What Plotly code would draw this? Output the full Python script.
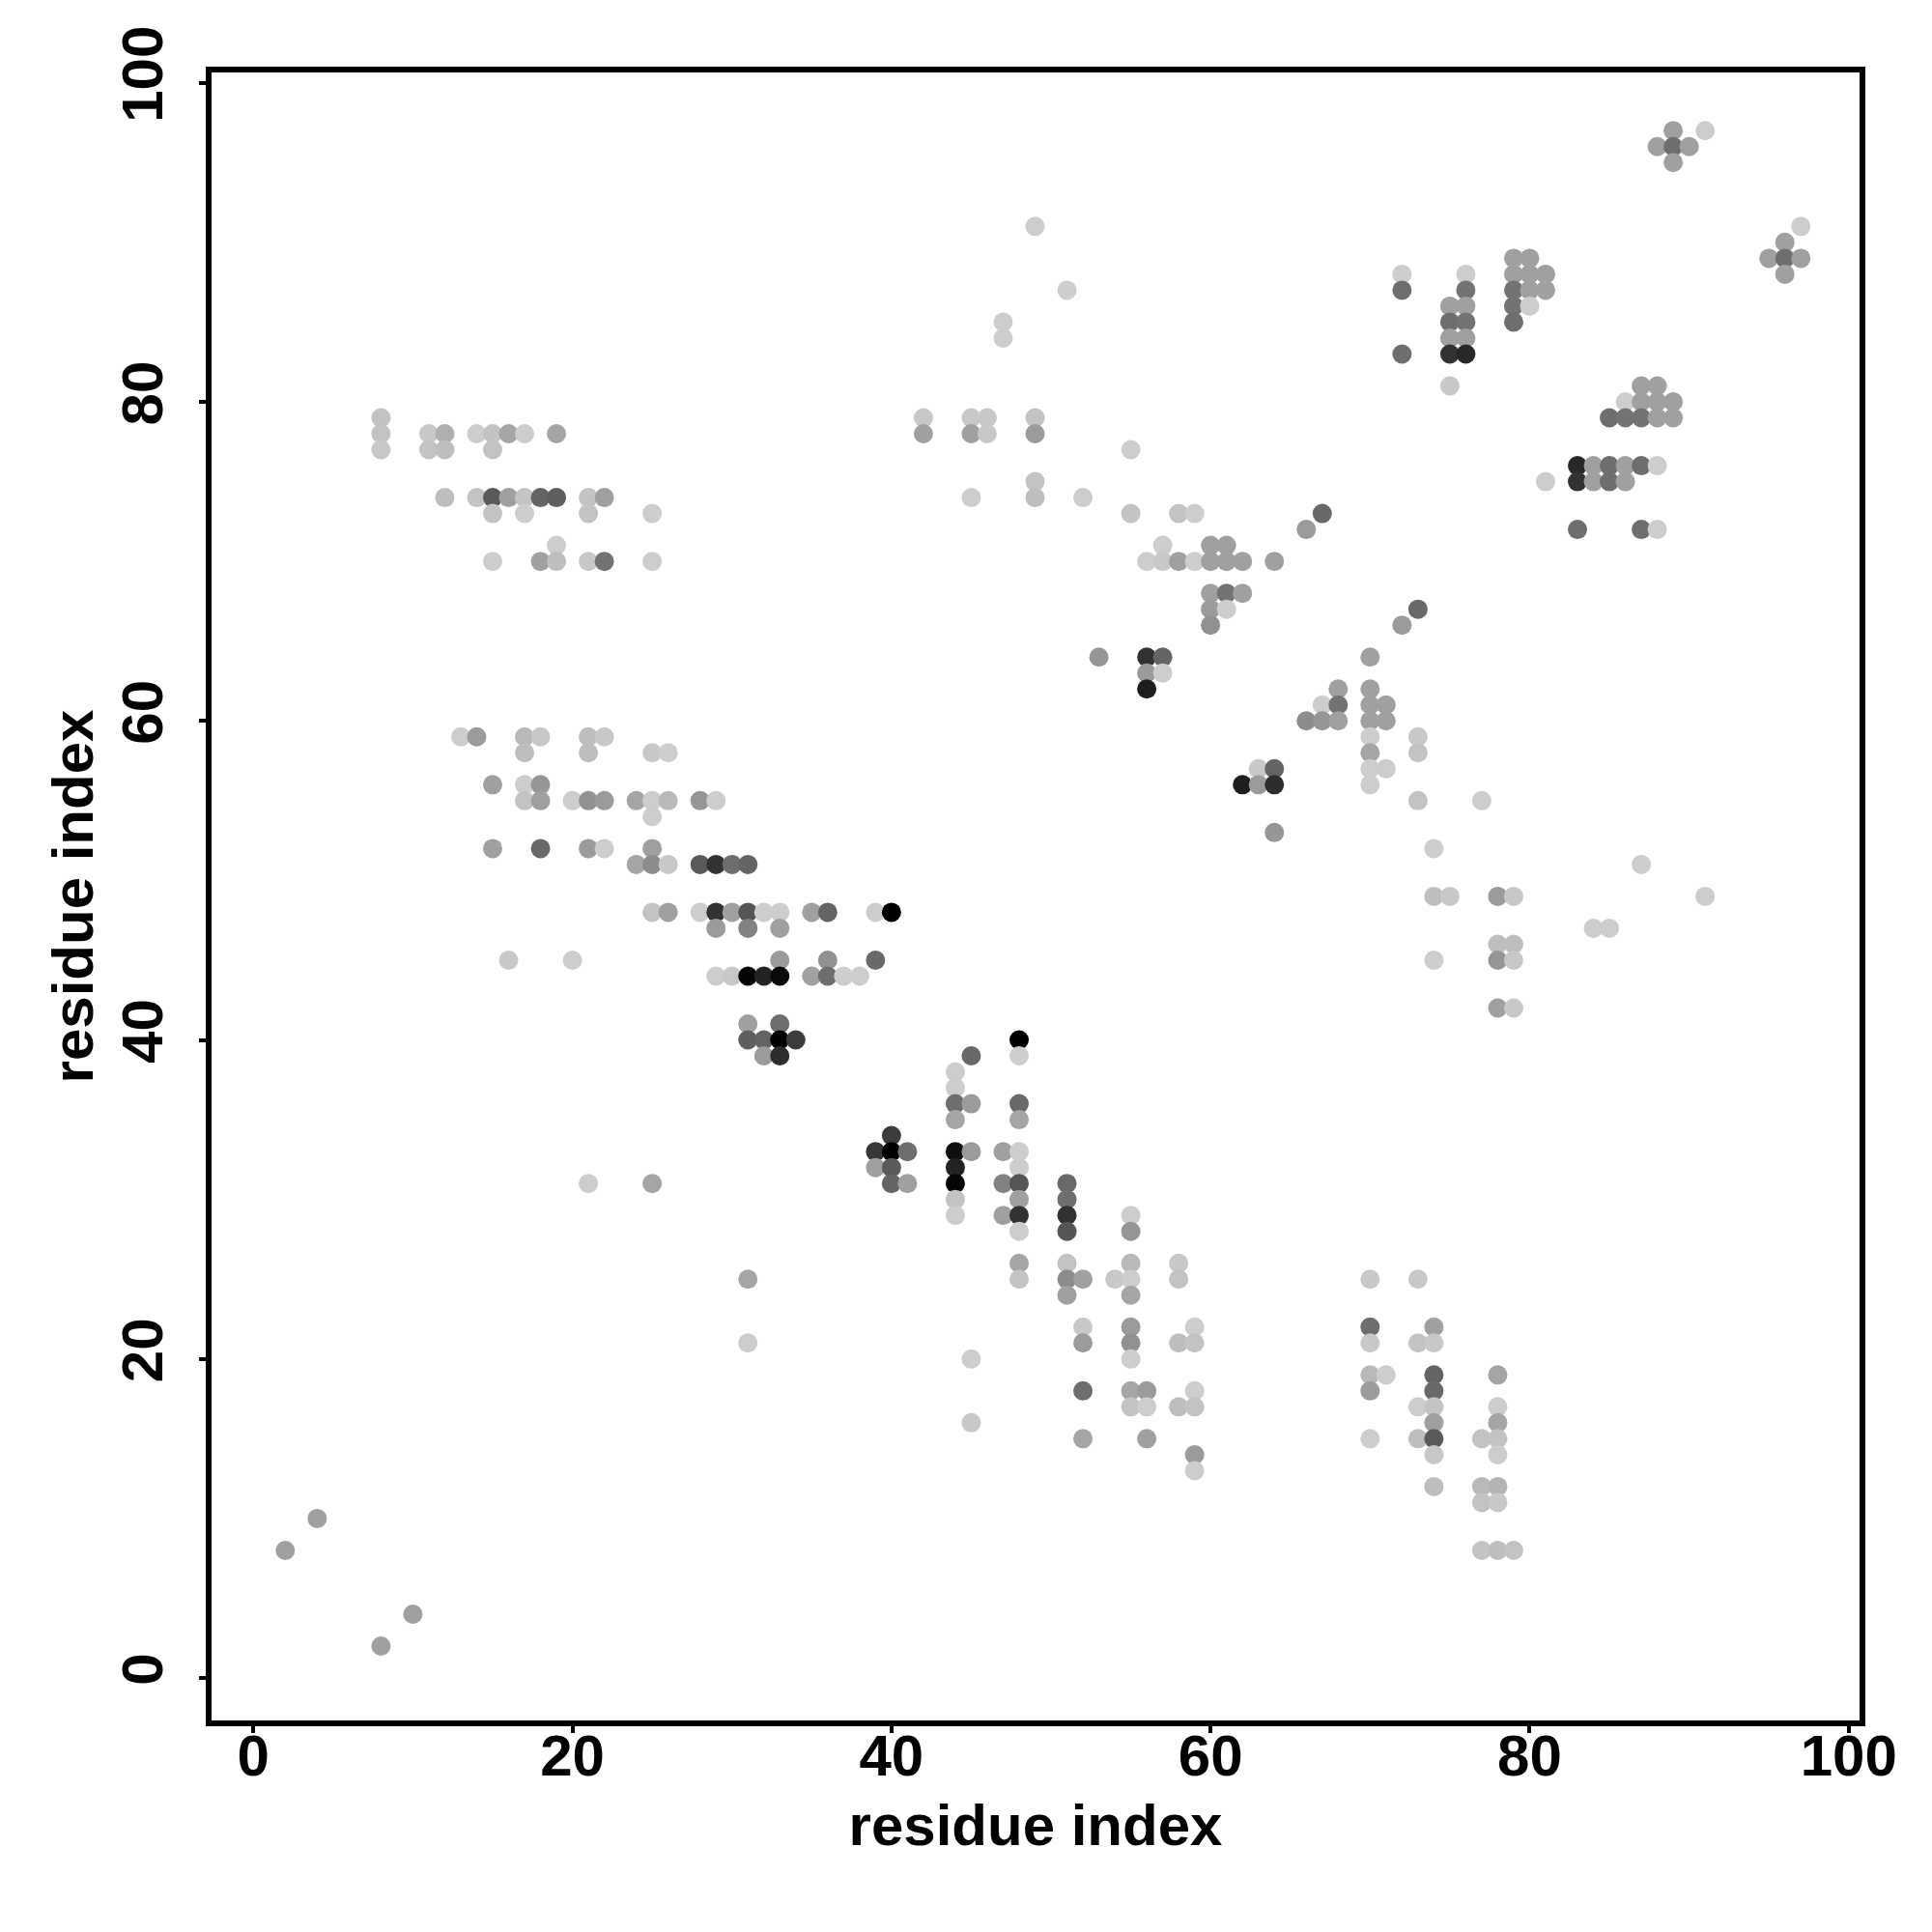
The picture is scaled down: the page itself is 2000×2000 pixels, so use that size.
import plotly.graph_objects as go

# contact map read row by row: y index, x indices, grey levels (0 black .. 255 white)
y_rows = [97, 96, 95, 91, 90, 89, 88, 87, 86, 85, 84, 83, 81, 80, 79, 78, 77, 76, 75, 74, 73, 72, 71, 70,
          68, 67, 66, 64, 63, 62, 61, 60, 59, 58, 57, 56, 55, 54, 53, 52, 51, 49, 48, 47, 46, 45, 44, 42,
          41, 40, 39, 38, 37, 36, 35, 34, 33, 32, 31, 30, 29, 28, 26, 25, 24, 22, 21, 20, 19, 18, 17, 16,
          15, 14, 13, 12, 11, 10, 8, 4, 2]
x_rows = [
    [89, 91], [88, 89, 90], [89], [49, 97], [96], [79, 80, 95, 96, 97], [72, 76, 79, 80, 81, 96],
    [51, 72, 76, 79, 80, 81], [75, 76, 79, 80], [47, 75, 76, 79], [47, 75, 76], [72, 75, 76],
    [75, 87, 88], [86, 87, 88, 89], [8, 42, 45, 46, 49, 85, 86, 87, 88, 89],
    [8, 11, 12, 14, 15, 16, 17, 19, 42, 45, 46, 49], [8, 11, 12, 15, 55],
    [83, 84, 85, 86, 87, 88], [49, 81, 83, 84, 85, 86],
    [12, 14, 15, 16, 17, 18, 19, 21, 22, 45, 49, 52], [15, 17, 21, 25, 55, 58, 59, 67],
    [66, 83, 87, 88], [19, 57, 60, 61],
    [15, 18, 19, 21, 22, 25, 56, 57, 58, 59, 60, 61, 62, 64],
    [60, 61, 62], [60, 61, 73], [60, 72], [53, 56, 57, 70], [56, 57], [56, 68, 70],
    [67, 68, 70, 71], [66, 67, 68, 70, 71], [13, 14, 17, 18, 21, 22, 70, 73],
    [17, 21, 25, 26, 70, 73], [63, 64, 70, 71], [15, 17, 18, 62, 63, 64, 70],
    [17, 18, 20, 21, 22, 24, 25, 26, 28, 29, 73, 77], [25], [64], [15, 18, 21, 22, 25, 74],
    [24, 25, 26, 28, 29, 30, 31, 87], [74, 75, 78, 79, 91],
    [25, 26, 28, 29, 30, 31, 32, 33, 35, 36, 39, 40], [29, 31, 33, 84, 85], [78, 79],
    [16, 20, 33, 36, 39, 74, 78, 79], [29, 30, 31, 32, 33, 35, 36, 37, 38], [78, 79],
    [31, 33], [31, 32, 33, 34, 48], [32, 33, 45, 48], [44], [44], [44, 45, 48], [44, 48], [40],
    [39, 40, 41, 44, 45, 47, 48], [39, 40, 44, 48], [21, 25, 40, 41, 44, 47, 48, 51],
    [44, 48, 51], [44, 47, 48, 51, 55], [48, 51, 55], [48, 51, 55, 58],
    [31, 48, 51, 52, 54, 55, 58, 70, 73], [51, 55], [52, 55, 59, 70, 74],
    [31, 52, 55, 58, 59, 70, 73, 74], [45, 55], [70, 71, 74, 78], [52, 55, 56, 59, 70, 74],
    [55, 56, 58, 59, 73, 74, 78], [45, 74, 78], [52, 56, 70, 73, 74, 77, 78], [59, 74, 78],
    [59], [74, 77, 78], [77, 78], [4], [2, 77, 78, 79], [10], [8],
]
grey_rows = [
    [160, 205], [160, 110, 160], [160], [205, 205], [160], [160, 160, 160, 110, 160],
    [205, 205, 160, 160, 160, 160], [205, 110, 115, 115, 160, 160], [160, 160, 115, 205],
    [205, 110, 115, 110], [205, 160, 160], [110, 50, 40], [200, 160, 160], [205, 160, 160, 160],
    [195, 200, 200, 200, 195, 110, 115, 115, 160, 160],
    [195, 200, 175, 205, 195, 165, 205, 165, 160, 160, 200, 155], [200, 195, 190, 195, 205],
    [40, 160, 110, 160, 110, 205], [195, 205, 50, 160, 110, 160],
    [190, 195, 90, 160, 195, 100, 95, 195, 160, 205, 190, 205],
    [195, 205, 195, 205, 195, 195, 205, 105], [155, 110, 110, 205], [205, 205, 160, 160],
    [205, 160, 190, 200, 115, 205, 205, 200, 160, 205, 160, 160, 160, 160],
    [160, 115, 160], [155, 205, 105], [145, 155], [150, 50, 100, 160], [155, 205], [30, 160, 160],
    [205, 115, 160, 160], [140, 150, 160, 160, 160], [205, 155, 185, 200, 190, 200, 205, 200],
    [190, 190, 200, 205, 165, 195], [200, 100, 205, 205], [160, 205, 150, 30, 155, 45, 205],
    [195, 160, 205, 145, 155, 165, 205, 185, 150, 205, 195, 205], [205], [150],
    [160, 105, 155, 205, 160, 205], [165, 140, 200, 90, 50, 110, 100, 205],
    [190, 200, 155, 200, 205],
    [195, 160, 205, 50, 160, 85, 205, 205, 160, 100, 205, 0], [155, 130, 160, 205, 205],
    [190, 190], [200, 205, 155, 145, 105, 205, 150, 200],
    [205, 200, 5, 35, 10, 160, 110, 205, 205], [160, 200],
    [160, 110], [95, 100, 0, 60, 0], [155, 45, 105, 205], [205], [205], [110, 155, 105],
    [165, 165], [60], [55, 0, 110, 15, 155, 160, 205], [160, 90, 35, 205],
    [205, 165, 100, 160, 5, 130, 85, 105], [195, 160, 110], [205, 160, 50, 50, 205],
    [205, 85, 150], [165, 195, 185, 200],
    [165, 195, 140, 160, 200, 205, 195, 200, 200], [160, 165], [200, 155, 205, 110, 160],
    [205, 155, 145, 190, 195, 200, 195, 200], [205, 205], [185, 205, 100, 165],
    [110, 165, 155, 205, 155, 105], [195, 205, 190, 195, 205, 195, 205], [200, 160, 165],
    [165, 160, 205, 190, 90, 195, 195], [155, 200, 205], [205], [190, 185, 180], [195, 200],
    [160], [160, 195, 190, 195], [160], [160],
]
tick_values = [0, 20, 40, 60, 80, 100]
axis_label = "residue index"

xs, ys, colors = [], [], []
for row_y, row_x, row_g in zip(y_rows, x_rows, grey_rows):
    for px, g in zip(row_x, row_g):
        xs.append(px)
        ys.append(row_y)
        colors.append(f"rgb({g},{g},{g})")

fig = go.Figure(go.Scatter(x=xs, y=ys, mode="markers",
                           marker=dict(size=20, color=colors, line=dict(width=0))))

font = dict(family="Liberation Sans", size=60, color="black", weight="bold")
axis_common = dict(
    tickvals=tick_values, ticks="outside", ticklen=7, tickwidth=4, tickcolor="black",
    showline=True, linewidth=6, linecolor="black", mirror=True,
    showgrid=False, zeroline=False, tickfont=font,
)
fig.update_xaxes(range=[-2.62, 100.68], ticklabelstandoff=-28,
                 title=dict(text=axis_label, font=font, standoff=20), **axis_common)
fig.update_yaxes(range=[-2.66, 100.65], tickangle=-90, ticklabelstandoff=14,
                 title=dict(text=axis_label, font=font, standoff=0), **axis_common)
fig.update_layout(width=2000, height=2000, autosize=False, showlegend=False,
                  paper_bgcolor="white", plot_bgcolor="white",
                  margin=dict(l=211, r=83, t=67, b=227, autoexpand=False))
fig.write_html("out.html")
